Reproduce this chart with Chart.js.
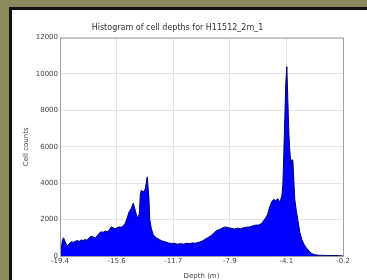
<!DOCTYPE html>
<html>
<head>
<meta charset="utf-8">
<script src="https://cdn.jsdelivr.net/npm/chart.js@4.4.1/dist/chart.umd.min.js"></script>
<style>
  html, body { margin: 0; padding: 0; }
  body { width: 367px; height: 280px; background: #8b8a5c; position: relative; overflow: hidden; }
  #frame { position: absolute; left: 9px; top: 7px; width: 358px; height: 273px; background: #111; }
  #box { position: absolute; left: 12px; top: 10px; width: 355px; height: 270px; background: #fff; }
</style>
</head>
<body>
<div id="frame"></div>
<div id="box"><canvas id="chart1" width="355" height="270"></canvas></div>
<script>
// histogram outline: depth (m) and cell count
const depths = [
  -19.40, -19.33, -19.23, -19.16, -19.06, -18.92, -18.79, -18.65, -18.51, -18.38,
  -18.24, -18.11, -17.97, -17.83, -17.70, -17.56, -17.43, -17.29, -17.15, -17.02,
  -16.88, -16.74, -16.61, -16.47, -16.34, -16.20, -16.06, -15.93, -15.79, -15.66,
  -15.52, -15.38, -15.25, -15.11, -14.97, -14.84, -14.70, -14.57, -14.43, -14.29,
  -14.16, -14.02, -13.95, -13.88, -13.75, -13.61, -13.48, -13.37, -13.31, -13.20,
  -13.07, -12.86, -12.66, -12.45, -12.25, -12.04, -11.84, -11.64, -11.43, -11.23,
  -11.02, -10.82, -10.62, -10.41, -10.21, -10.00, -9.80, -9.59, -9.39, -9.19,
  -8.98, -8.78, -8.57, -8.37, -8.17, -7.96, -7.76, -7.55, -7.35, -7.15,
  -6.94, -6.74, -6.53, -6.33, -6.12, -5.92, -5.71, -5.58, -5.44, -5.31,
  -5.17, -5.03, -4.90, -4.76, -4.62, -4.49, -4.35, -4.28, -4.22, -4.15,
  -4.08, -4.01, -3.94, -3.87, -3.81, -3.74, -3.67, -3.60, -3.54, -3.47,
  -3.37, -3.26, -3.13, -2.99, -2.85, -2.72, -2.58, -2.45, -2.31, -2.11,
  -1.83, -1.36, -0.68, -0.20
];
const counts = [
  0, 300, 900, 1000, 800, 550, 650, 780, 750, 800,
  850, 800, 880, 850, 900, 870, 1000, 1080, 1050, 1000,
  1100, 1250, 1330, 1300, 1380, 1330, 1420, 1600, 1550, 1500,
  1560, 1600, 1580, 1650, 1800, 2100, 2450, 2600, 2900, 2500,
  2080, 2300, 3400, 3620, 3500, 3700, 4350, 3200, 2000, 1500,
  1150, 1000, 900, 820, 780, 720, 680, 700, 650, 680,
  650, 700, 680, 720, 700, 750, 800, 900, 1000, 1100,
  1250, 1400, 1450, 1550, 1600, 1550, 1520, 1480, 1530, 1500,
  1550, 1580, 1600, 1650, 1700, 1700, 1800, 1950, 2100, 2300,
  2700, 3000, 3100, 3050, 3150, 2950, 3300, 3900, 5500, 7500,
  9500, 10400, 8500, 6700, 5800, 5100, 5300, 5250, 4200, 3100,
  2500, 1950, 1300, 900, 650, 480, 350, 220, 130, 70,
  40, 30, 25, 0
];
const xTickValues = [-19.40, -15.56, -11.72, -7.88, -4.04, -0.20];
const xTickLabels = ["-19.4", "-15.6", "-11.7", "-7.9", "-4.1", "-0.2"];
const yTickValues = [0, 2000, 4000, 6000, 8000, 10000, 12000];

let points = []
depths.forEach((d, i) => {
  points.push({ x: d, y: counts[i] })
})

const font = { family: "DejaVu Sans", size: 7 };

// draw the full frame round the plot like matplotlib
const framePlugin = {
  id: "frame",
  afterDraw(chart) {
    const a = chart.chartArea;
    const ctx = chart.ctx;
    ctx.save();
    ctx.strokeStyle = "#a0a0a0";
    ctx.lineWidth = 1;
    ctx.strokeRect(a.left + 0.5, a.top + 0.5, a.right - a.left, a.bottom - a.top);
    ctx.restore();
  },
};

const config1 = {
  type: "line",
  data: {
    datasets: [
      {
        data: points,
        fill: "origin",
        backgroundColor: "#0000ff",
        borderColor: "#000070",
        borderWidth: 1,
        pointRadius: 0,
        tension: 0,
      },
    ],
  },
  options: {
    responsive: false,
    animation: false,
    layout: { padding: { left: 0, right: 24, top: 0, bottom: 0 } },
    plugins: {
      legend: { display: false },
      tooltip: { enabled: false },
      title: {
        display: true,
        text: "Histogram of cell depths for H11512_2m_1",
        color: "#333",
        font: { family: "DejaVu Sans", size: 8, weight: "normal" },
        padding: { top: 13, bottom: 5 },
      },
    },
    scales: {
      x: {
        type: "linear",
        min: -19.4,
        max: -0.2,
        afterBuildTicks: (axis) => {
          axis.ticks = xTickValues.map((v) => ({ value: v }));
        },
        afterFit: (axis) => { axis.height = 24; },
        ticks: {
          color: "#444",
          font: font,
          padding: 1,
          maxRotation: 0,
          callback: (v, i) => xTickLabels[i],
        },
        grid: { color: "#e4e4e4", tickLength: 0 },
        border: { display: false },
        title: {
          display: true,
          text: "Depth (m)",
          color: "#444",
          font: font,
          padding: 0,
        },
      },
      y: {
        min: 0,
        max: 12000,
        afterBuildTicks: (axis) => {
          axis.ticks = yTickValues.map((v) => ({ value: v }));
        },
        afterFit: (axis) => { axis.width = 48; },
        ticks: {
          color: "#444",
          font: font,
          padding: 2,
          callback: (v) => String(v),
        },
        grid: { color: "#e4e4e4", tickLength: 0 },
        border: { display: false },
        title: {
          display: true,
          text: "Cell counts",
          color: "#444",
          font: font,
          padding: { top: 10, bottom: 4 },
        },
      },
    },
  },
  plugins: [framePlugin],
};

const histChart = new Chart(document.getElementById("chart1"), config1);
</script>
</body>
</html>
